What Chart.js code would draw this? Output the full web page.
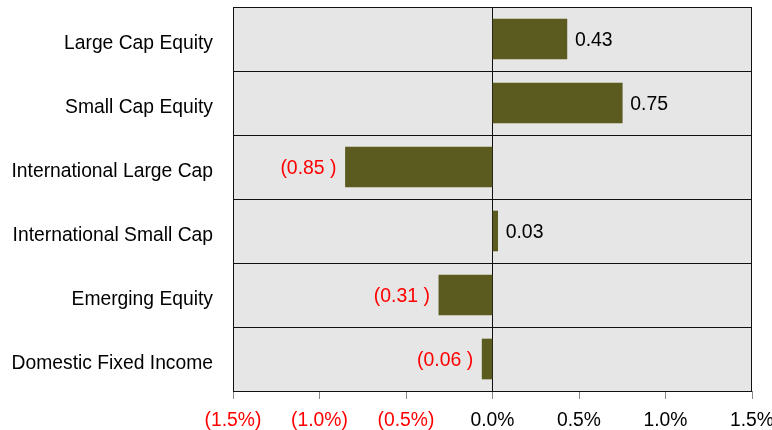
<!DOCTYPE html>
<html>
<head>
<meta charset="utf-8">
<script src="https://cdn.jsdelivr.net/npm/chart.js@4"></script>
<style>
  html, body { margin: 0; padding: 0; background: #fff; }
  #wrap { width: 772px; height: 430px; }
</style>
</head>
<body>
<div id="wrap"><canvas id="chart" width="772" height="430"></canvas></div>
<script>
var categories = ['Large Cap Equity', 'Small Cap Equity', 'International Large Cap',
    'International Small Cap', 'Emerging Equity', 'Domestic Fixed Income'];
var values = [0.43, 0.75, -0.85, 0.03, -0.31, -0.06];
var tickValues = [-1.5, -1.0, -0.5, 0, 0.5, 1.0, 1.5];

var FONT = '"Liberation Sans", Arial, sans-serif';

function fmtTick(v) {
    var s = Math.abs(v).toFixed(1) + '%';
    return v < 0 ? '(' + s + ')' : s;
}
function fmtLabel(v) {
    var s = Math.abs(v).toFixed(2);
    return v < 0 ? '(' + s + ' )' : s;
}

// gray panel + black frame behind the bars
var panelPlugin = {
    id: 'panel',
    beforeDraw: function (chart) {
        var a = chart.chartArea, c = chart.ctx;
        c.save();
        c.fillStyle = '#e6e6e6';
        c.fillRect(a.left, a.top, a.right - a.left, a.bottom - a.top);
        c.restore();
    },
    afterDraw: function (chart) {
        var a = chart.chartArea, c = chart.ctx;
        c.save();
        c.strokeStyle = '#111';
        c.lineWidth = 1;
        c.strokeRect(a.left + 0.5, a.top + 0.5, a.right - a.left - 1, a.bottom - a.top);
        c.restore();
    }
};

// value labels next to each bar
var labelPlugin = {
    id: 'valueLabels',
    afterDatasetsDraw: function (chart) {
        var c = chart.ctx;
        var meta = chart.getDatasetMeta(0);
        c.save();
        c.font = '19.4px ' + FONT;
        c.textBaseline = 'middle';
        meta.data.forEach(function (bar, i) {
            var v = values[i];
            if (v < 0) {
                c.fillStyle = '#ff0000';
                c.textAlign = 'right';
                c.fillText(fmtLabel(v), bar.x - 9, bar.y + 2);
            } else {
                c.fillStyle = '#000';
                c.textAlign = 'left';
                c.fillText(fmtLabel(v), bar.x + 8, bar.y + 2);
            }
        });
        c.restore();
    }
};

new Chart(document.getElementById('chart'), {
    type: 'bar',
    data: {
        labels: categories,
        datasets: [{
            data: values,
            backgroundColor: '#5c5b1f',
            borderColor: '#8a8960',
            borderWidth: 0,
            barThickness: 40
        }]
    },
    options: {
        indexAxis: 'y',
        responsive: false,
        animation: false,
        layout: { padding: { top: 7, right: 20, left: 0, bottom: 0 } },
        plugins: {
            legend: { display: false },
            tooltip: { enabled: false }
        },
        scales: {
            x: {
                min: -1.5,
                max: 1.5,
                afterBuildTicks: function (axis) {
                    axis.ticks = tickValues.map(function (v) { return { value: v }; });
                },
                afterFit: function (axis) {
                    axis.height = 39;
                    axis.paddingLeft = 0;
                    axis.paddingRight = 0;
                },
                border: { display: false },
                grid: {
                    color: function (ctx) {
                        return ctx.tick && ctx.tick.value === 0 ? '#111' : 'rgba(0,0,0,0)';
                    },
                    tickColor: '#888',
                    tickLength: 8,
                    drawOnChartArea: true
                },
                ticks: {
                    padding: 10,
                    maxRotation: 0,
                    font: { size: 19.3, family: FONT },
                    color: function (ctx) { return ctx.tick.value < 0 ? '#ff0000' : '#000'; },
                    callback: function (v) { return fmtTick(v); }
                }
            },
            y: {
                afterFit: function (axis) {
                    axis.width = 233;
                    axis.paddingTop = 0;
                    axis.paddingBottom = 0;
                },
                border: { display: false },
                grid: {
                    offset: true,
                    color: '#111',
                    drawTicks: false
                },
                ticks: {
                    padding: 20,
                    labelOffset: 5,
                    font: { size: 19.3, family: FONT },
                    color: '#000'
                }
            }
        }
    },
    plugins: [panelPlugin, labelPlugin]
});
</script>
</body>
</html>
